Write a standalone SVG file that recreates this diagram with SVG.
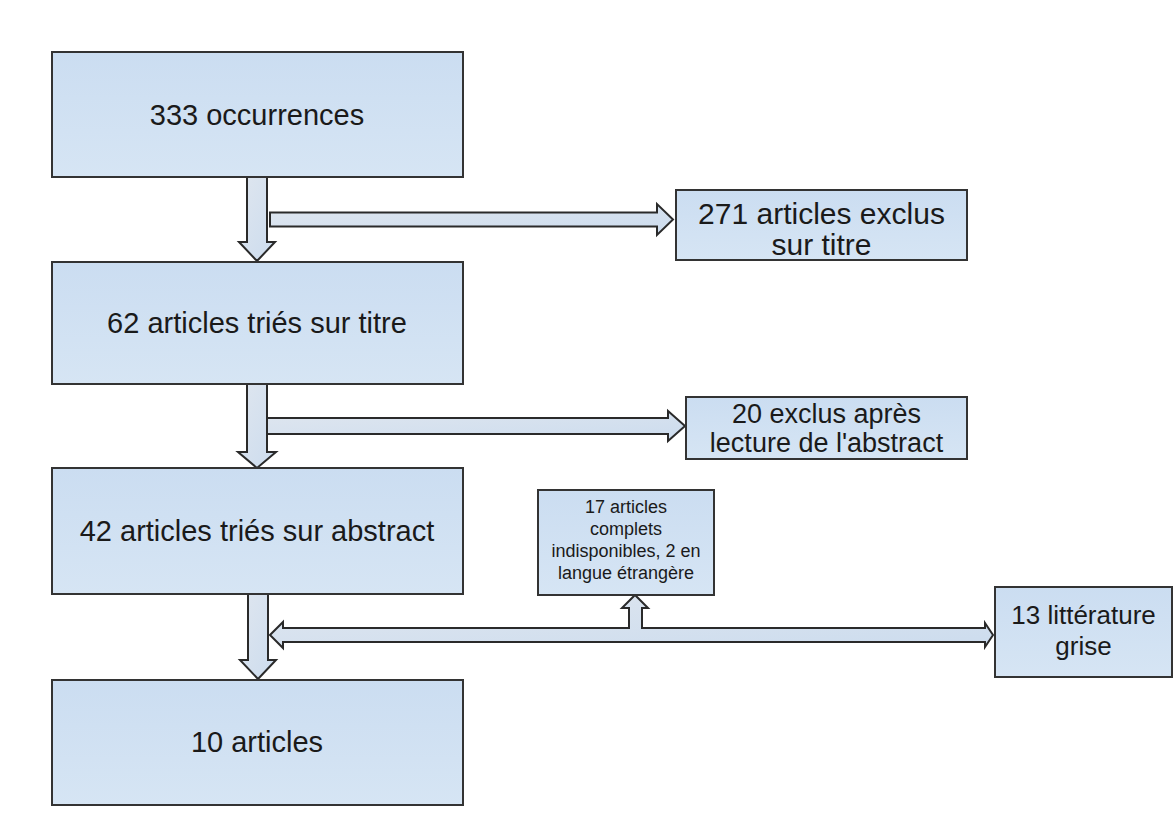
<svg xmlns="http://www.w3.org/2000/svg" width="1174" height="823" viewBox="0 0 1174 823">
<defs>
<linearGradient id="boxg" x1="0" y1="0" x2="0" y2="1">
<stop offset="0" stop-color="#cbddf1"/>
<stop offset="1" stop-color="#d6e5f4"/>
</linearGradient>
<linearGradient id="arrg" x1="0" y1="0" x2="1" y2="1">
<stop offset="0" stop-color="#dfe6ef"/>
<stop offset="1" stop-color="#ccdcee"/>
</linearGradient>
<style>
.box{fill:url(#boxg);stroke:#333;stroke-width:2}
.arr{fill:url(#arrg);stroke:#2a2a2a;stroke-width:2;stroke-linejoin:miter}
text{font-family:"Liberation Sans",Arial,sans-serif;fill:#1a1a1a;text-anchor:middle}
.big{font-size:29px}
.mid{font-size:30px}
.med{font-size:27px}
.gr{font-size:26px}
.small{font-size:18px}
</style>
</defs>
<rect width="1174" height="823" fill="#fff"/>
<g id="connectors">
<polygon class="arr" points="247,177 267,177 267,242 275,242 257,261 239,242 247,242"/>
<polygon class="arr" points="270,212.5 657,212.5 657,204 673,219.5 657,235 657,226.5 270,226.5"/>
<polygon class="arr" points="247,384 267,384 267,452 276,452 257,468 238,452 247,452"/>
<polygon class="arr" points="267,418 668,418 668,411 685,426 668,441 668,434 267,434"/>
<polygon class="arr" points="248,594 268,594 268,660 276,660 258,679 240,660 248,660"/>
<polygon class="arr" points="270,635 283,622 283,628 629,628 629,608 622,608 635,595 648,608 642,608 642,628 985,628 985,623 993,635 985,647 985,642 283,642 283,648"/>
</g>
<g id="n1"><rect class="box" x="52" y="52" width="411" height="125"/><text class="big" x="257" y="125">333 occurrences</text></g>
<g id="n2"><rect class="box" x="52" y="262" width="411" height="122"/><text class="big" x="257" y="333">62 articles triés sur titre</text></g>
<g id="n3"><rect class="box" x="52" y="468" width="411" height="126"/><text class="big" x="257" y="541">42 articles triés sur abstract</text></g>
<g id="n4"><rect class="box" x="52" y="680" width="411" height="125"/><text class="big" x="257" y="752">10 articles</text></g>
<g id="r1"><rect class="box" x="676" y="190" width="291" height="70"/><text class="mid" x="821.5" y="224">271 articles exclus</text><text class="mid" x="821.5" y="255">sur titre</text></g>
<g id="r2"><rect class="box" x="686" y="397" width="281" height="62"/><text class="med" x="826.5" y="423">20 exclus après</text><text class="med" x="826.5" y="452">lecture de l'abstract</text></g>
<g id="r3"><rect class="box" x="538" y="490" width="176" height="105"/><text class="small" x="626" y="513">17 articles</text><text class="small" x="626" y="535">complets</text><text class="small" x="626" y="557">indisponibles, 2 en</text><text class="small" x="626" y="579">langue étrangère</text></g>
<g id="r4"><rect class="box" x="995" y="587" width="177" height="90"/><text class="gr" x="1083.5" y="624">13 littérature</text><text class="gr" x="1083.5" y="655">grise</text></g>
</svg>
